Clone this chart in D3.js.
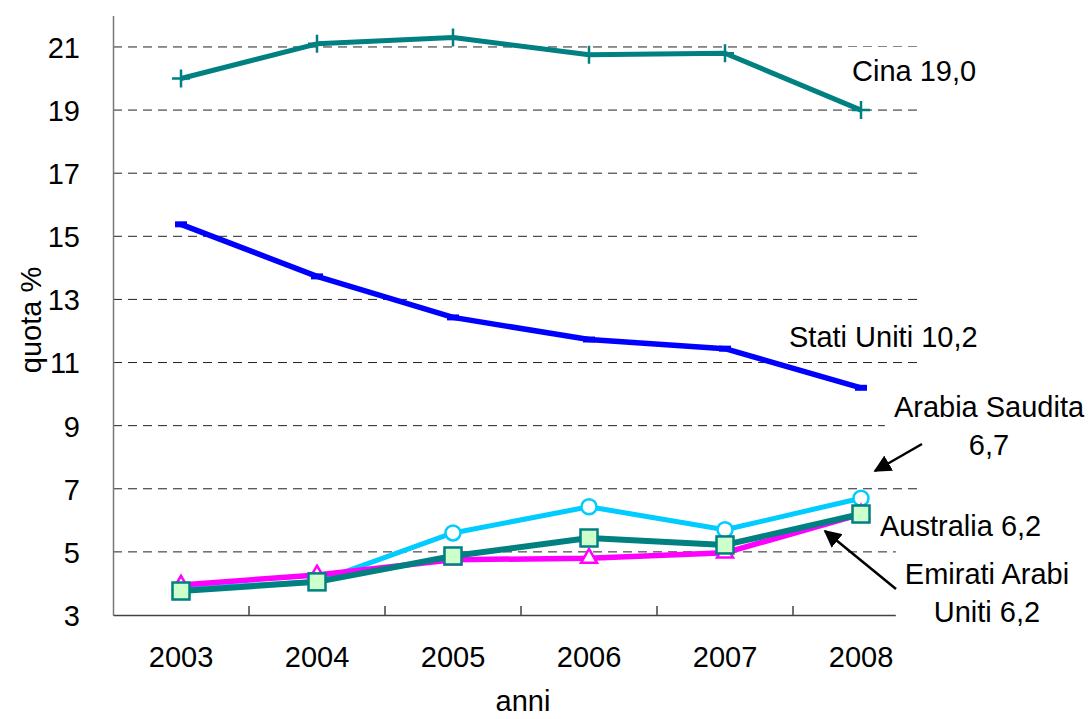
<!DOCTYPE html>
<html>
<head>
<meta charset="utf-8">
<script src="https://cdn.jsdelivr.net/npm/d3@7"></script>
<style>
  html, body { margin: 0; padding: 0; background: #fff; }
  svg { display: block; font-family: "Liberation Sans", Arial, sans-serif; }
</style>
</head>
<body>
<svg id="chart" width="1090" height="719"></svg>
<script>
// ---- data ----
const years = ["2003", "2004", "2005", "2006", "2007", "2008"];
const cina = [20.0, 21.1, 21.3, 20.75, 20.8, 19.0];
const statiUniti = [15.38, 13.73, 12.43, 11.73, 11.44, 10.2];
const arabiaSaudita = [3.82, 4.05, 5.6, 6.43, 5.7, 6.7];
const australia = [3.95, 4.27, 4.75, 4.8, 4.97, 6.2];
const emirati = [3.76, 4.05, 4.87, 5.44, 5.22, 6.2];
const yTicks = [3, 5, 7, 9, 11, 13, 15, 17, 19, 21];
const yTitle = "quota %";
const xTitle = "anni";

// ---- layout ----
const plotLeft = 113, plotRight = 929, plotTop = 15.4, plotBottom = 615;
const FONT = 29;

const svg = d3.select("#chart");
const x = d3.scaleBand().domain(years).range([plotLeft, plotRight]);
const y = d3.scaleLinear().domain([3, 22]).range([plotBottom, plotTop]);
const cx = d => x(d) + x.bandwidth() / 2;

// gridlines
svg.append("g").selectAll("line")
  .data(yTicks.filter(v => v !== 3))
  .join("line")
  .attr("x1", plotLeft).attr("x2", 920)
  .attr("y1", d => y(d)).attr("y2", d => y(d))
  .attr("stroke", "#222").attr("stroke-width", 1)
  .attr("stroke-dasharray", "9,6");

// y axis
const yAxis = svg.append("g").attr("transform", `translate(${plotLeft},0)`)
  .call(d3.axisLeft(y).tickValues(yTicks).tickSize(0).tickPadding(33).tickFormat(d3.format("d")));
yAxis.select(".domain").attr("stroke", "#777").attr("stroke-width", 1.5);
yAxis.selectAll("text").attr("font-size", FONT).attr("fill", "#000")
  .attr("font-family", "Liberation Sans, Arial, sans-serif").attr("dy", "0.36em");

// x axis
const xAxis = svg.append("g").attr("transform", `translate(0,${plotBottom})`)
  .call(d3.axisBottom(x).tickSize(0).tickPadding(31));
xAxis.select(".domain").attr("stroke", "#444").attr("stroke-width", 1.5);
xAxis.selectAll("text").attr("font-size", FONT).attr("fill", "#000")
  .attr("font-family", "Liberation Sans, Arial, sans-serif");
// boundary ticks (pointing up, between categories)
svg.append("g").selectAll("line")
  .data(years.slice(1).concat(["__end"]))
  .join("line")
  .attr("x1", d => d === "__end" ? plotRight : x(d))
  .attr("x2", d => d === "__end" ? plotRight : x(d))
  .attr("y1", plotBottom).attr("y2", plotBottom - 9)
  .attr("stroke", "#444").attr("stroke-width", 1.5);

// axis titles
svg.append("text").attr("transform", `translate(41,${(267 + 373) / 2}) rotate(-90)`)
  .attr("text-anchor", "middle").attr("font-size", FONT).text(yTitle);
svg.append("text").attr("x", 523).attr("y", 711)
  .attr("text-anchor", "middle").attr("font-size", FONT).text(xTitle);

const line = d3.line().x((d, i) => cx(years[i])).y(d => y(d));

function drawLine(vals, color, width) {
  svg.append("path").datum(vals).attr("d", line)
    .attr("fill", "none").attr("stroke", color).attr("stroke-width", width)
    .attr("stroke-linejoin", "round");
}

// Arabia Saudita
drawLine(arabiaSaudita, "#00CCFF", 5);
svg.append("g").selectAll("circle").data(arabiaSaudita).join("circle")
  .attr("cx", (d, i) => cx(years[i])).attr("cy", d => y(d)).attr("r", 7.5)
  .attr("fill", "#fff").attr("stroke", "#00CCFF").attr("stroke-width", 2.5);

// Australia
drawLine(australia, "#FF00FF", 5.5);
const tri = d3.symbol().type(d3.symbolTriangle).size(110);
svg.append("g").selectAll("path").data(australia).join("path")
  .attr("d", tri)
  .attr("transform", (d, i) => `translate(${cx(years[i])},${y(d)})`)
  .attr("fill", "#fff").attr("stroke", "#FF00FF").attr("stroke-width", 2.5);

// Emirati Arabi Uniti
drawLine(emirati, "#008080", 6);
svg.append("g").selectAll("rect").data(emirati).join("rect")
  .attr("x", (d, i) => cx(years[i]) - 8.5).attr("y", d => y(d) - 8.5)
  .attr("width", 17).attr("height", 17)
  .attr("fill", "#CCFFCC").attr("stroke", "#008080").attr("stroke-width", 2.5);

// Stati Uniti
drawLine(statiUniti, "#0000FF", 5.5);
svg.append("g").selectAll("line").data(statiUniti).join("line")
  .attr("x1", (d, i) => cx(years[i]) - 6).attr("x2", (d, i) => cx(years[i]) + 6)
  .attr("y1", d => y(d)).attr("y2", d => y(d))
  .attr("stroke", "#0000FF").attr("stroke-width", 6);

// Cina
drawLine(cina, "#008080", 5);
svg.append("g").selectAll("path").data(cina).join("path")
  .attr("d", (d, i) => {
    const px = cx(years[i]), py = y(d);
    return `M${px - 9},${py}H${px + 9}M${px},${py - 9}V${py + 9}`;
  })
  .attr("fill", "none").attr("stroke", "#008080").attr("stroke-width", 2.5);

// ---- annotations ----
const labels = [
  { lines: ["Cina 19,0"], x: 852, y: 81, anchor: "start", box: true },
  { lines: ["Stati Uniti 10,2"], x: 789, y: 347, anchor: "start", box: false },
  { lines: ["Arabia Saudita", "6,7"], x: 989, y: 417, anchor: "middle", box: true },
  { lines: ["Australia 6,2"], x: 880, y: 536, anchor: "start", box: false },
  { lines: ["Emirati Arabi", "Uniti 6,2"], x: 987, y: 584, anchor: "middle", box: true }
];
labels.forEach(l => {
  const g = svg.append("g");
  const bg = g.append("rect").attr("fill", "#fff");
  const t = g.append("text").attr("font-size", FONT).attr("text-anchor", l.anchor);
  l.lines.forEach((s, i) => {
    t.append("tspan").attr("x", l.x).attr("y", l.y + i * 38).text(s);
  });
  if (l.box) {
    const b = t.node().getBBox();
    bg.attr("x", b.x - 9).attr("y", b.y - 8).attr("width", b.width + 18).attr("height", b.height + 14);
  } else {
    bg.remove();
  }
});

// arrows
svg.append("defs").append("marker")
  .attr("id", "ah").attr("viewBox", "0 0 10 10").attr("refX", 9).attr("refY", 5)
  .attr("markerWidth", 7).attr("markerHeight", 7).attr("orient", "auto")
  .append("path").attr("d", "M0,0L10,5L0,10Z").attr("fill", "#000");
const arrows = [
  { x1: 922, y1: 444, x2: 875, y2: 471 },
  { x1: 896, y1: 589, x2: 825, y2: 531 }
];
svg.append("g").selectAll("line").data(arrows).join("line")
  .attr("x1", d => d.x1).attr("y1", d => d.y1).attr("x2", d => d.x2).attr("y2", d => d.y2)
  .attr("stroke", "#000").attr("stroke-width", 2.5).attr("marker-end", "url(#ah)");
</script>
</body>
</html>
